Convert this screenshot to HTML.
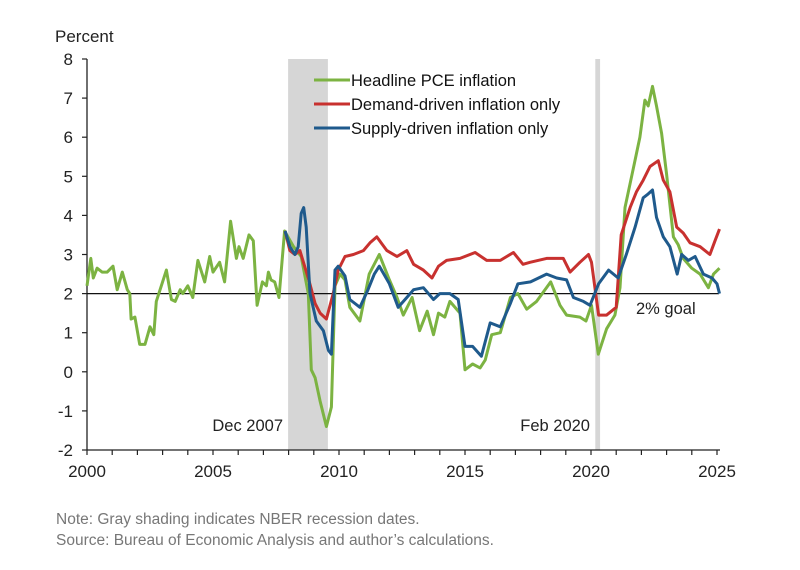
<!DOCTYPE html>
<html><head><meta charset="utf-8"><style>
body{margin:0;background:#fff;}
svg{display:block;font-family:"Liberation Sans",sans-serif;}
</style></head><body>
<svg id="chart" width="800" height="570" viewBox="0 0 800 570"></svg>
<script>
const greenYears=[2000,2000.15,2000.25,2000.4,2000.6,2000.8,2001.03,2001.2,2001.4,2001.6,2001.7,2001.75,2001.9,2002.09,2002.3,2002.5,2002.65,2002.75,2003.15,2003.35,2003.5,2003.7,2003.8,2004,2004.2,2004.4,2004.67,2004.87,2005,2005.26,2005.46,2005.7,2005.93,2006.03,2006.2,2006.43,2006.6,2006.75,2006.96,2007.12,2007.2,2007.3,2007.45,2007.62,2007.84,2008.2,2008.5,2008.78,2008.9,2009.05,2009.25,2009.5,2009.7,2009.84,2010.04,2010.24,2010.43,2010.83,2011.2,2011.6,2012,2012.3,2012.55,2012.9,2013.2,2013.5,2013.75,2013.95,2014.2,2014.4,2014.8,2015,2015.3,2015.6,2015.8,2016.06,2016.4,2016.8,2017.1,2017.45,2017.84,2018.4,2018.77,2019.03,2019.56,2019.8,2020.02,2020.29,2020.62,2020.95,2021.15,2021.35,2021.68,2021.94,2022.14,2022.27,2022.44,2022.6,2022.8,2023,2023.27,2023.46,2023.66,2024,2024.33,2024.66,2024.86,2025.1];
const greenVals=[2.2,2.9,2.4,2.65,2.55,2.55,2.7,2.1,2.55,2.1,2.0,1.35,1.4,0.7,0.7,1.15,0.95,1.8,2.6,1.85,1.8,2.1,2.0,2.2,1.9,2.85,2.3,2.95,2.55,2.8,2.3,3.85,2.9,3.2,2.9,3.5,3.35,1.7,2.3,2.2,2.55,2.35,2.3,1.9,3.6,3.2,2.95,2.0,0.05,-0.15,-0.75,-1.4,-0.9,2.2,2.5,2.35,1.65,1.3,2.5,3.0,2.35,1.9,1.45,1.9,1.05,1.55,0.95,1.5,1.4,1.8,1.5,0.05,0.2,0.1,0.3,0.95,1.0,1.9,2.0,1.6,1.8,2.3,1.7,1.45,1.4,1.3,1.7,0.45,1.1,1.45,2.15,4.2,5.2,6.0,6.95,6.8,7.3,6.8,6.1,5.05,3.45,3.25,2.9,2.65,2.5,2.15,2.5,2.65];
const redYears=[2007.86,2008.05,2008.25,2008.45,2008.8,2009.05,2009.25,2009.5,2009.77,2009.97,2010.24,2010.57,2010.97,2011.23,2011.5,2011.9,2012.3,2012.69,2012.96,2013.35,2013.69,2013.95,2014.27,2014.8,2015.4,2015.86,2016.4,2016.92,2017.3,2017.58,2018.24,2018.9,2019.17,2019.56,2019.9,2020.02,2020.3,2020.62,2021,2021.2,2021.55,2021.8,2022.07,2022.34,2022.67,2022.87,2023.13,2023.4,2023.66,2023.93,2024.33,2024.72,2024.92,2025.1];
const redVals=[3.6,3.1,3.0,3.1,2.35,1.75,1.5,1.35,2.0,2.6,2.95,3.0,3.1,3.3,3.45,3.1,2.95,3.1,2.75,2.6,2.4,2.7,2.85,2.9,3.05,2.85,2.85,3.05,2.75,2.8,2.9,2.9,2.55,2.8,3.0,2.8,1.45,1.45,1.65,3.5,4.2,4.6,4.9,5.25,5.4,4.9,4.6,3.7,3.55,3.3,3.2,3.0,3.35,3.65];
const blueYears=[2007.86,2008.05,2008.25,2008.38,2008.5,2008.6,2008.7,2008.85,2009.1,2009.38,2009.58,2009.7,2009.84,2009.97,2010.24,2010.43,2010.83,2011.15,2011.4,2011.6,2012,2012.35,2012.69,2012.96,2013.35,2013.75,2014,2014.4,2014.73,2015,2015.3,2015.65,2016,2016.4,2016.8,2017.1,2017.6,2018.24,2018.64,2019.03,2019.3,2019.7,2019.96,2020.3,2020.7,2021.08,2021.4,2021.75,2022.07,2022.27,2022.44,2022.6,2022.87,2023.13,2023.42,2023.6,2023.86,2024.13,2024.46,2024.8,2025,2025.1];
const blueVals=[3.6,3.2,3.0,3.2,4.05,4.2,3.7,2.0,1.3,1.05,0.55,0.45,2.6,2.7,2.45,1.85,1.65,2.1,2.5,2.7,2.25,1.65,1.9,2.1,2.15,1.85,2.0,2.0,1.85,0.65,0.65,0.4,1.25,1.15,1.75,2.25,2.3,2.5,2.4,2.35,1.9,1.8,1.7,2.25,2.6,2.4,3.0,3.7,4.45,4.55,4.65,3.95,3.45,3.2,2.5,3.0,2.85,2.95,2.5,2.4,2.25,2.0];
const yTicks=[8,7,6,5,4,3,2,1,0,-1,-2];
const xLabels=[2000,2005,2010,2015,2020,2025];
const recessions=[[2007.98,2009.56],[2020.17,2020.36]];

const NS="http://www.w3.org/2000/svg";
const svg=document.getElementById('chart');
const X0=87,X1=717,Y8=59,Ym2=450;
const xs=y=>X0+(y-2000)*(X1-X0)/25;
const ys=v=>Ym2-(v+2)*(Ym2-Y8)/10;
function el(t,a,p){const e=document.createElementNS(NS,t);for(const k in a)e.setAttribute(k,a[k]);(p||svg).appendChild(e);return e;}
function txt(s,a){const e=el('text',a);e.textContent=s;return e;}

recessions.forEach((r,i)=>{
  const e=el('rect',{x:xs(r[0]),y:Y8,width:xs(r[1])-xs(r[0]),height:Ym2-Y8,fill:'#d6d6d6'});
  
  
});
let e=el('line',{x1:X0,y1:Y8,x2:X0,y2:Ym2,stroke:'#222','stroke-width':1.3});

e=el('line',{x1:X0,y1:Ym2,x2:X1+3,y2:Ym2,stroke:'#222','stroke-width':1.3});

yTicks.forEach(v=>{
  el('line',{x1:X0-5,y1:ys(v),x2:X0,y2:ys(v),stroke:'#222','stroke-width':1.2});
  const t=txt(String(v),{x:73,y:ys(v)+6,'text-anchor':'end','font-size':17,fill:'#222'});
  
  
});
for(let y=2000;y<=2025;y++){el('line',{x1:xs(y),y1:Ym2,x2:xs(y),y2:Ym2+5,stroke:'#222','stroke-width':1.2});}
xLabels.forEach(y=>{
  const t=txt(String(y),{x:xs(y),y:477,'text-anchor':'middle','font-size':17,fill:'#222'});
  
  
});
e=el('line',{x1:X0,y1:ys(2),x2:X1+2,y2:ys(2),stroke:'#111','stroke-width':1.3});


function series(yrs,vals,color,name){
  const d=yrs.map((y,i)=>(i?'L':'M')+xs(y).toFixed(1)+' '+ys(vals[i]).toFixed(1)).join(' ');
  const p=el('path',{d:d,fill:'none',stroke:color,'stroke-width':3,'stroke-linejoin':'round'});
  
  
}
series(greenYears,greenVals,'#7cb342','headline-pce-line');
series(redYears,redVals,'#c8312f','demand-driven-line');
series(blueYears,blueVals,'#1f5a8c','supply-driven-line');
</script>
<svg width="800" height="570" style="position:absolute;left:0;top:0;font-family:'Liberation Sans',sans-serif">
<text x="55" y="42" font-size="17" fill="#222">Percent</text>
<g>
<line x1="314" y1="80" x2="350" y2="80" stroke="#7cb342" stroke-width="3"/>
<text x="351" y="86" font-size="16.5" fill="#111">Headline PCE inflation</text>
<line x1="314" y1="104" x2="350" y2="104" stroke="#c8312f" stroke-width="3"/>
<text x="351" y="110" font-size="16.5" fill="#111">Demand-driven inflation only</text>
<line x1="314" y1="128" x2="350" y2="128" stroke="#1f5a8c" stroke-width="3"/>
<text x="351" y="134" font-size="16.5" fill="#111">Supply-driven inflation only</text>
</g>
<text x="283" y="431" text-anchor="end" font-size="16.5" fill="#222">Dec 2007</text>
<text x="590" y="431" text-anchor="end" font-size="16.5" fill="#222">Feb 2020</text>
<text x="636" y="314" font-size="16.5" fill="#222">2% goal</text>
<text x="56" y="524" font-size="15.5" fill="#777">Note: Gray shading indicates NBER recession dates.</text>
<text x="56" y="545" font-size="15.5" fill="#777">Source: Bureau of Economic Analysis and author’s calculations.</text>
</svg>
</body></html>
